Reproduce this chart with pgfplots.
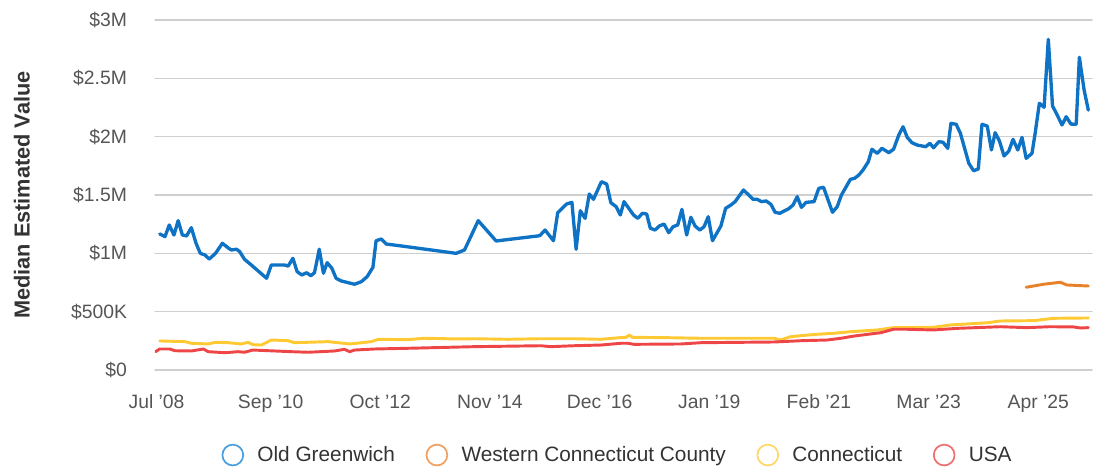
\documentclass[border=0pt]{standalone}
\usepackage{pgfplots}
\pgfplotsset{compat=1.18}
\usepackage{fontspec}
\setmainfont{Liberation Sans}
\definecolor{cblue}{HTML}{0E72C5}
\definecolor{corange}{HTML}{E8822A}
\definecolor{cyellow}{HTML}{FFC934}
\definecolor{cred}{HTML}{EE4646}
\definecolor{lblue}{HTML}{4A9FE0}
\definecolor{lorange}{HTML}{F0A060}
\definecolor{lyellow}{HTML}{FFD766}
\definecolor{lred}{HTML}{F07070}
\definecolor{gridc}{HTML}{CFCFCF}
\definecolor{tickc}{HTML}{555555}
\definecolor{textc}{HTML}{333333}
\begin{document}
\begin{tikzpicture}
\useasboundingbox (-116.25pt,-72.75pt) rectangle (706.5pt,277.5pt);
\begin{axis}[
  scale only axis, width=702.75pt, height=262.5pt,
  xmin=2008.47, xmax=2026.27, ymin=0, ymax=3,
  axis line style={draw=none},
  ymajorgrids, grid style={gridc, line width=1.1pt},
  xtick={2008.5,2010.667,2012.75,2014.833,2016.917,2019.0,2021.083,2023.167,2025.25},
  xticklabels={Jul '08,Sep '10,Oct '12,Nov '14,Dec '16,Jan '19,Feb '21,Mar '23,Apr '25},
  ytick={0,0.5,1,1.5,2,2.5,3},
  yticklabels={\$0,\$500K,\$1M,\$1.5M,\$2M,\$2.5M,\$3M},
  major tick length=0pt,
  tick label style={font=\fontsize{14.5}{17}\selectfont, text=tickc},
  yticklabel style={xshift=-17.5pt},
  xticklabel style={yshift=-15pt},
  every axis y label/.style={at={(axis description cs:-0.142,0.5)}, anchor=center, rotate=90, font=\fontsize{16.3}{19}\selectfont\bfseries, text=textc},
  ylabel={Median Estimated Value},
  legend columns=4,
  legend style={at={(axis description cs:0.494,-0.243)}, anchor=center, draw=none, fill=none,
    font=\fontsize{15.6}{18}\selectfont, text=textc,
    /tikz/every odd column/.append style={column sep=8pt},
    /tikz/every even column/.append style={column sep=21pt}},
  legend image code/.code={\draw[line width=1.3pt,#1] (0pt,0pt) circle (7.8pt);},
  line join=round, line cap=round,
]
\addplot[cblue, line width=2.5pt, forget plot] coordinates {
(2008.56,1.166)(2008.66,1.143)(2008.74,1.243)(2008.83,1.157)(2008.91,1.280)(2008.99,1.157)
(2009.07,1.149)(2009.16,1.220)(2009.25,1.086)(2009.33,1.000)(2009.42,0.986)(2009.50,0.951)
(2009.62,1.000)(2009.75,1.086)(2009.87,1.043)(2009.92,1.029)(2010.02,1.035)(2010.08,1.014)
(2010.17,0.949)(2010.30,0.900)(2010.59,0.786)(2010.68,0.900)(2010.93,0.900)(2011.00,0.891)
(2011.09,0.957)(2011.17,0.843)(2011.26,0.814)(2011.35,0.834)(2011.43,0.808)(2011.50,0.834)
(2011.59,1.035)(2011.67,0.829)(2011.74,0.920)(2011.83,0.872)(2011.91,0.786)(2012.01,0.763)
(2012.26,0.735)(2012.39,0.757)(2012.50,0.800)(2012.61,0.880)(2012.67,1.108)(2012.77,1.123)
(2012.86,1.080)(2013.15,1.063)(2014.19,1.000)(2014.35,1.029)(2014.61,1.280)(2014.95,1.106)
(2015.78,1.151)(2015.88,1.200)(2016.04,1.108)(2016.12,1.348)(2016.29,1.423)(2016.39,1.437)
(2016.47,1.035)(2016.55,1.365)(2016.64,1.300)(2016.72,1.508)(2016.80,1.463)(2016.95,1.614)
(2017.05,1.594)(2017.13,1.434)(2017.23,1.400)(2017.31,1.329)(2017.38,1.443)(2017.56,1.329)
(2017.64,1.300)(2017.73,1.343)(2017.81,1.337)(2017.88,1.215)(2017.97,1.200)(2018.05,1.234)
(2018.14,1.251)(2018.23,1.177)(2018.31,1.228)(2018.40,1.243)(2018.48,1.377)(2018.57,1.157)
(2018.65,1.309)(2018.73,1.234)(2018.82,1.200)(2018.90,1.228)(2018.98,1.314)(2019.06,1.108)
(2019.22,1.234)(2019.31,1.386)(2019.41,1.414)(2019.49,1.443)(2019.65,1.543)(2019.73,1.508)
(2019.83,1.463)(2019.91,1.463)(2019.99,1.443)(2020.08,1.449)(2020.17,1.420)(2020.25,1.352)
(2020.34,1.343)(2020.43,1.365)(2020.51,1.383)(2020.59,1.414)(2020.67,1.486)(2020.75,1.394)
(2020.84,1.437)(2020.99,1.443)(2021.08,1.557)(2021.17,1.566)(2021.34,1.352)(2021.43,1.400)
(2021.51,1.500)(2021.68,1.634)(2021.76,1.643)(2021.84,1.671)(2021.92,1.714)(2022.02,1.785)
(2022.09,1.892)(2022.19,1.857)(2022.28,1.900)(2022.41,1.863)(2022.50,1.892)(2022.60,2.014)
(2022.68,2.085)(2022.76,1.994)(2022.85,1.948)(2022.95,1.928)(2023.11,1.914)(2023.19,1.943)
(2023.26,1.905)(2023.36,1.957)(2023.44,1.952)(2023.53,1.900)(2023.59,2.114)(2023.69,2.106)
(2023.77,2.029)(2023.85,1.900)(2023.93,1.772)(2024.02,1.708)(2024.11,1.723)(2024.18,2.106)
(2024.28,2.091)(2024.36,1.886)(2024.43,2.034)(2024.51,1.965)(2024.60,1.834)(2024.69,1.877)
(2024.77,1.977)(2024.86,1.886)(2024.94,1.994)(2025.02,1.814)(2025.13,1.857)(2025.19,2.029)
(2025.27,2.286)(2025.36,2.252)(2025.44,2.834)(2025.52,2.263)(2025.60,2.194)(2025.70,2.100)
(2025.78,2.171)(2025.87,2.108)(2025.97,2.106)(2026.03,2.680)(2026.12,2.400)(2026.20,2.228)
};
\addplot[corange, line width=2.2pt, forget plot] coordinates {
(2025.02,0.709)(2025.35,0.735)(2025.67,0.752)(2025.79,0.729)(2026.05,0.723)(2026.20,0.720)
};
\addplot[cyellow, line width=2.2pt, forget plot] coordinates {
(2008.56,0.249)(2009.04,0.243)(2009.16,0.229)(2009.48,0.223)(2009.61,0.237)(2009.86,0.234)
(2010.11,0.223)(2010.24,0.237)(2010.33,0.217)(2010.49,0.214)(2010.68,0.257)(2011.00,0.251)
(2011.12,0.234)(2011.76,0.243)(2012.01,0.231)(2012.17,0.223)(2012.58,0.243)(2012.71,0.263)
(2013.27,0.260)(2013.59,0.272)(2014.22,0.266)(2014.54,0.268)(2015.17,0.263)(2015.80,0.268)
(2016.43,0.268)(2016.94,0.263)(2017.32,0.278)(2017.42,0.280)(2017.48,0.300)(2017.54,0.280)
(2018.21,0.277)(2018.84,0.272)(2020.23,0.272)(2020.35,0.257)(2020.54,0.285)(2020.80,0.297)
(2021.05,0.306)(2021.37,0.315)(2021.68,0.328)(2022.19,0.343)(2022.50,0.363)(2023.26,0.366)
(2023.58,0.386)(2024.28,0.405)(2024.53,0.420)(2025.16,0.423)(2025.54,0.443)(2026.20,0.446)
};
\addplot[cred, line width=2.2pt, forget plot] coordinates {
(2008.48,0.157)(2008.56,0.180)(2008.75,0.180)(2008.85,0.165)(2009.16,0.163)(2009.39,0.180)
(2009.48,0.157)(2009.80,0.148)(2010.05,0.157)(2010.17,0.152)(2010.33,0.171)(2011.06,0.157)
(2011.38,0.152)(2011.88,0.163)(2012.07,0.177)(2012.17,0.157)(2012.26,0.171)(2012.64,0.180)
(2013.27,0.186)(2014.54,0.200)(2015.80,0.208)(2015.99,0.200)(2016.43,0.208)(2016.94,0.214)
(2017.32,0.229)(2017.45,0.229)(2017.57,0.220)(2018.46,0.223)(2018.84,0.234)(2020.23,0.240)
(2020.74,0.251)(2021.24,0.257)(2021.50,0.272)(2021.75,0.291)(2022.26,0.320)(2022.50,0.349)
(2022.76,0.349)(2023.26,0.343)(2023.71,0.357)(2024.53,0.371)(2025.03,0.363)(2025.47,0.371)
(2025.92,0.369)(2026.05,0.360)(2026.20,0.363)
};
\addlegendimage{lblue}
\addlegendentry{Old Greenwich}
\addlegendimage{lorange}
\addlegendentry{Western Connecticut County}
\addlegendimage{lyellow}
\addlegendentry{Connecticut}
\addlegendimage{lred}
\addlegendentry{USA}
\end{axis}
\end{tikzpicture}
\end{document}
